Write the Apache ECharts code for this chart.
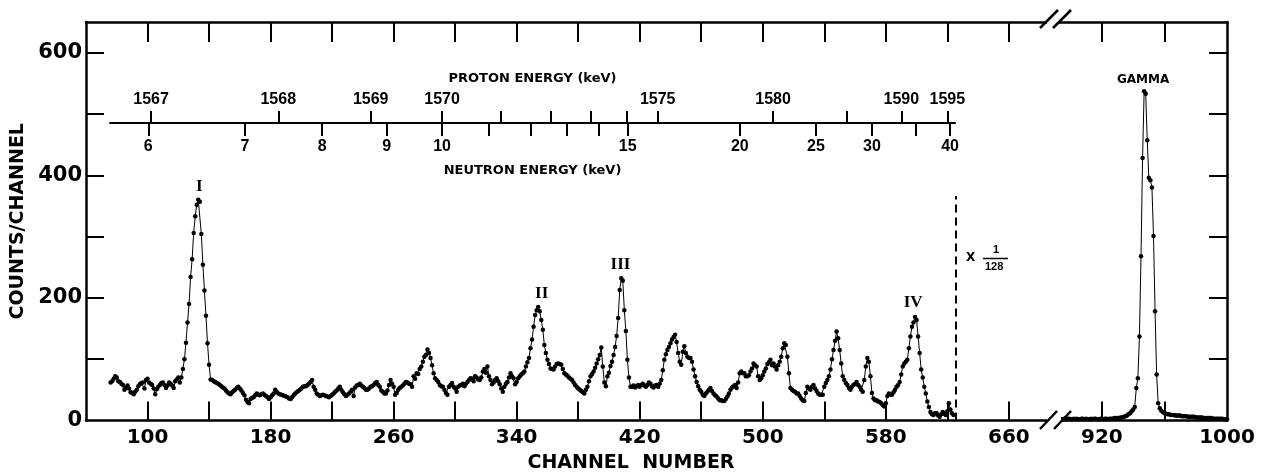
<!DOCTYPE html>
<html>
<head>
<meta charset="utf-8">
<script src="https://cdn.jsdelivr.net/npm/echarts@6.0.0/dist/echarts.min.js"></script>
<style>
html, body { margin: 0; padding: 0; background: #fff; }
#chart { width: 1262px; height: 475px; }
</style>
</head>
<body>
<div id="chart"></div>
<script>
// counts per channel, left part of the spectrum (channel 76 onward)
var startChannel = 76;
var counts = [
	62,64,68,72,70,64,63,60,58,50,
	53,57,52,46,45,43,47,50,56,59,
	61,62,52,66,68,62,60,58,52,43,
	51,55,58,61,62,58,53,57,62,60,
	57,53,64,67,70,62,70,84,100,127,
	160,190,234,263,306,333,352,360,357,304,
	254,212,171,126,91,67,66,64,63,61,
	60,58,56,54,52,49,46,44,43,46,
	48,50,53,55,52,49,45,41,34,30,
	28,35,37,38,41,44,42,41,43,44,
	42,40,38,35,38,41,44,50,47,44,
	43,42,41,40,39,38,36,35,38,41,
	44,46,48,50,52,55,56,56,58,60,
	63,66,55,50,44,42,40,41,42,41,
	40,39,38,40,42,44,47,49,52,55,
	50,46,43,40,42,44,47,50,40,54,
	57,58,60,57,55,53,50,50,52,55,
	56,58,61,63,58,55,49,47,44,44,
	49,58,66,60,55,42,45,50,53,55,
	57,60,63,62,60,59,55,72,68,77,
	76,84,88,96,104,107,116,110,102,90,
	77,69,66,63,58,56,55,50,45,42,
	55,58,61,55,52,47,55,57,58,60,
	56,60,63,66,69,68,64,72,70,67,
	66,70,80,84,78,88,72,66,59,62,
	66,69,64,59,52,47,55,60,63,70,
	77,72,69,59,63,69,72,75,77,80,
	88,95,102,118,132,153,172,180,185,178,
	164,148,123,110,99,92,85,84,83,88,
	92,93,92,91,84,77,75,73,70,68,
	66,62,58,55,52,50,48,46,44,50,
	55,64,72,76,80,86,93,100,107,119,
	88,62,56,72,78,89,96,107,120,138,
	167,213,232,228,180,146,99,70,55,55,
	57,54,56,58,55,58,60,57,55,58,
	62,60,56,54,57,58,55,60,66,82,
	99,108,115,120,126,132,136,140,128,110,
	96,91,112,121,110,104,102,102,96,83,
	72,63,56,50,47,42,40,44,47,50,
	53,48,44,41,39,36,33,33,32,32,
	35,39,44,50,54,56,58,53,62,77,
	80,77,77,72,72,74,80,85,93,90,
	88,72,66,69,74,80,85,92,95,99,
	90,93,88,83,90,96,104,118,126,123,
	104,77,53,50,48,47,44,44,40,36,
	33,32,45,55,52,50,55,58,52,48,
	44,42,42,42,55,61,66,72,83,100,
	115,130,145,134,115,93,72,66,61,58,
	53,50,55,58,60,63,58,55,50,47,
	66,88,102,96,72,45,36,33,33,31,
	30,28,25,23,28,40,44,42,42,46,
	50,55,58,63,75,88,93,96,99,118,
	137,153,160,169,164,137,110,83,70,55,
	44,31,22,14,10,9,12,12,8,6,
	10,14,11,9,15,28,18,12,9
];

// right part (x 1/128), channel 890 onward
var gammaStart = 890;
var gammaCounts = [
	3,3,2,3,2,2,3,2,3,3,
	2,2,3,2,3,2,2,3,3,2,
	3,2,2,3,2,3,3,2,2,3,
	3,2,3,3,2,3,3,3,4,4,
	4,4,5,5,6,7,8,10,12,15,
	18,22,53,69,137,268,428,537,533,457,
	396,392,380,301,178,75,28,20,16,14,
	12,11,10,10,9,9,9,8,8,8,
	8,7,7,7,7,6,6,6,6,6,
	5,5,5,5,5,4,4,4,4,4,
	4,3,3,3,3,3,3,3,2,2,
	2
];

var channelTicks = [100,140,180,220,260,300,340,380,420,460,500,540,580,620,660];
var channelLabels = [100,180,260,340,420,500,580,660];
var gammaTicks = [920,960];
var gammaLabels = [920,1000];
var countTicks = [100,200,300,400,500,600];
var countLabels = [0,200,400,600];

// energy scales, ticks placed at their channel numbers
var protonEnergy = [1567,1568,1569,1570,1571,1572,1573,1574,1575,1580,1585,1590,1595];
var protonChannel = [102.3,185.0,245.1,291.5,329.6,362.0,388.1,411.8,431.7,506.7,554.8,590.1,620.0];
var protonLabeled = [1567,1568,1569,1570,1575,1580,1590,1595];
var neutronEnergy = [6,7,8,9,10,11,12,13,14,15,20,25,30,35,40];
var neutronChannel = [100.5,163.4,213.6,255.5,291.5,321.9,349.3,372.4,393.6,412.2,485.1,534.6,571.0,599.3,621.8];
var neutronLabeled = [6,7,8,9,10,15,20,25,30,40];

var peakNames = ['I','II','III','IV'];
var peakChannel = [133.7,356.3,407.5,597.8];
var peakLabelY = [382,207,254,192];
var gammaName = 'GAMMA';
var gammaLabelPos = [946.3,555];
var cutChannel = 625.5;
var cutTop = 366;

var leftData = [];
for (var i = 0; i < counts.length; i++) {
	leftData.push([startChannel + i, counts[i]]);
}
var rightData = [];
for (var j = 0; j < gammaCounts.length; j++) {
	rightData.push([gammaStart + j, gammaCounts[j]]);
}
var peakData = [];
for (var k = 0; k < peakNames.length; k++) {
	peakData.push({ value: [peakChannel[k], peakLabelY[k]], name: peakNames[k] });
}

function chanOf(list, chans, e) {
	return chans[list.indexOf(e)];
}
function energyOf(list, chans, v) {
	for (var i = 0; i < chans.length; i++) {
		if (Math.abs(chans[i] - v) < 0.01) return list[i];
	}
	return '';
}

var ink = '#000';
var font = 'DejaVu Sans';
var axisW = 2.5;

function xAxisBase(grid, pos, min, max, ticks, labels, len) {
	return {
		type: 'value', gridIndex: grid, position: pos, min: min, max: max,
		axisLine: { show: true, onZero: false, lineStyle: { color: ink, width: axisW } },
		axisTick: { show: true, inside: true, length: len, customValues: ticks, lineStyle: { color: ink, width: 2 } },
		axisLabel: labels ? {
			show: true, customValues: labels, margin: 7, color: ink, fontFamily: font, fontWeight: 'bold', fontSize: 20,
			formatter: function(v) { return String(v); }
		} : { show: false },
		splitLine: { show: false }
	};
}

var chart = echarts.init(document.getElementById('chart'));
var option = {
	animation: false,
	backgroundColor: '#fff',
	grid: [
		{ left: 86, width: 969, top: 22, height: 398.5 },
		{ left: 1055, width: 172, top: 22, height: 398.5 },
		{ left: 110, width: 845, top: 123, height: 1 }
	],
	xAxis: [
		xAxisBase(0, 'bottom', 60, 690, channelTicks, channelLabels, 19),
		xAxisBase(0, 'top', 60, 690, channelTicks, null, 20),
		xAxisBase(1, 'bottom', 890, 1000, gammaTicks, gammaLabels, 19),
		xAxisBase(1, 'top', 890, 1000, gammaTicks, null, 20),
		{
			type: 'value', gridIndex: 2, position: 'top', min: 75.6, max: 625.0,
			name: 'PROTON ENERGY (keV)', nameLocation: 'middle', nameGap: 38,
			nameTextStyle: { color: ink, fontFamily: font, fontWeight: 'bold', fontSize: 13 },
			axisLine: { show: true, onZero: false, lineStyle: { color: ink, width: 2 } },
			axisTick: { show: true, inside: false, length: 12, customValues: protonChannel, lineStyle: { color: ink, width: 2 } },
			axisLabel: {
				show: true, margin: 15, color: ink, fontFamily: 'Liberation Sans', fontWeight: 'bold', fontSize: 16,
				customValues: protonLabeled.map(function(e) { return chanOf(protonEnergy, protonChannel, e); }),
				formatter: function(v) { return String(energyOf(protonEnergy, protonChannel, v)); }
			},
			splitLine: { show: false }
		},
		{
			type: 'value', gridIndex: 2, position: 'bottom', min: 75.6, max: 625.0,
			name: 'NEUTRON ENERGY (keV)', nameLocation: 'middle', nameGap: 40,
			nameTextStyle: { color: ink, fontFamily: font, fontWeight: 'bold', fontSize: 13 },
			axisLine: { show: false },
			axisTick: { show: true, inside: false, length: 12, customValues: neutronChannel, lineStyle: { color: ink, width: 2 } },
			axisLabel: {
				show: true, margin: 15, color: ink, fontFamily: 'Liberation Sans', fontWeight: 'bold', fontSize: 16,
				customValues: neutronLabeled.map(function(e) { return chanOf(neutronEnergy, neutronChannel, e); }),
				formatter: function(v) { return String(energyOf(neutronEnergy, neutronChannel, v)); }
			},
			splitLine: { show: false }
		}
	],
	yAxis: [
		{
			type: 'value', gridIndex: 0, position: 'left', min: 0, max: 650,
			name: 'COUNTS/CHANNEL', nameLocation: 'middle', nameGap: 56,
			nameTextStyle: { color: ink, fontFamily: font, fontWeight: 'bold', fontSize: 19 },
			axisLine: { show: true, lineStyle: { color: ink, width: axisW } },
			axisTick: { show: true, inside: true, length: 18, customValues: countTicks, lineStyle: { color: ink, width: 2 } },
			axisLabel: { show: true, customValues: countLabels, margin: 4, color: ink, fontFamily: font, fontWeight: 'bold', fontSize: 21 },
			splitLine: { show: false }
		},
		{
			type: 'value', gridIndex: 1, position: 'right', min: 0, max: 650,
			axisLine: { show: true, lineStyle: { color: ink, width: axisW } },
			axisTick: { show: true, inside: true, length: 18, customValues: countTicks, lineStyle: { color: ink, width: 2 } },
			axisLabel: { show: false },
			splitLine: { show: false }
		},
		{ type: 'value', gridIndex: 2, show: false, min: 0, max: 1 }
	],
	series: [
		{
			type: 'line', name: 'counts', xAxisIndex: 0, yAxisIndex: 0,
			data: leftData, symbol: 'circle', symbolSize: 4.5, showSymbol: true,
			itemStyle: { color: ink }, lineStyle: { color: ink, width: 1 },
			markLine: {
				silent: true, symbol: ['none', 'none'], label: { show: false },
				lineStyle: { color: ink, width: 2, type: [8, 5] },
				data: [[{ coord: [cutChannel, 0] }, { coord: [cutChannel, cutTop] }]]
			}
		},
		{
			type: 'line', name: 'gamma', xAxisIndex: 2, yAxisIndex: 1,
			data: rightData, symbol: 'circle', symbolSize: 4.5, showSymbol: true,
			itemStyle: { color: ink }, lineStyle: { color: ink, width: 1 }
		},
		{
			type: 'scatter', xAxisIndex: 0, yAxisIndex: 0, data: peakData,
			symbolSize: 0, itemStyle: { color: ink }, silent: true,
			label: { show: true, position: 'inside', formatter: '{b}', color: ink, opacity: 1, fontFamily: 'Liberation Serif', fontWeight: 'bold', fontSize: 17 }
		},
		{
			type: 'scatter', xAxisIndex: 2, yAxisIndex: 1,
			data: [{ value: gammaLabelPos, name: gammaName }],
			symbolSize: 0, itemStyle: { color: ink }, silent: true,
			label: { show: true, position: 'inside', formatter: '{b}', color: ink, opacity: 1, fontFamily: font, fontWeight: 'bold', fontSize: 12 }
		}
	],
	graphic: [
		{ type: 'text', left: 'center', top: 454, z: 10,
			style: { text: 'CHANNEL  NUMBER', fill: ink, font: 'bold 19px "DejaVu Sans"' } },
		// axis break marks
		{ type: 'rect', z: 50, shape: { x: 1047, y: 18, width: 12, height: 8 }, style: { fill: '#fff' } },
		{ type: 'line', z: 51, shape: { x1: 1040, y1: 28, x2: 1058, y2: 10 }, style: { stroke: ink, lineWidth: 2.5 } },
		{ type: 'line', z: 51, shape: { x1: 1053, y1: 28, x2: 1071, y2: 10 }, style: { stroke: ink, lineWidth: 2.5 } },
		{ type: 'rect', z: 50, shape: { x: 1047, y: 416, width: 14, height: 9 }, style: { fill: '#fff' } },
		{ type: 'line', z: 51, shape: { x1: 1040, y1: 429, x2: 1057, y2: 411 }, style: { stroke: ink, lineWidth: 2.5 } },
		{ type: 'line', z: 51, shape: { x1: 1054, y1: 429, x2: 1071, y2: 411 }, style: { stroke: ink, lineWidth: 2.5 } },
		// scale factor x 1/128
		{ type: 'text', z: 10, left: 966, top: 252, style: { text: 'X', fill: ink, font: 'bold 12px "DejaVu Sans"' } },
		{ type: 'text', z: 10, left: 993, top: 244, style: { text: '1', fill: ink, font: 'bold 11px "Liberation Sans"' } },
		{ type: 'line', z: 10, shape: { x1: 983, y1: 258.5, x2: 1008, y2: 258.5 }, style: { stroke: ink, lineWidth: 1.5 } },
		{ type: 'text', z: 10, left: 985, top: 261, style: { text: '128', fill: ink, font: 'bold 11px "Liberation Sans"' } }
	]
};
chart.setOption(option);
</script>
</body>
</html>
